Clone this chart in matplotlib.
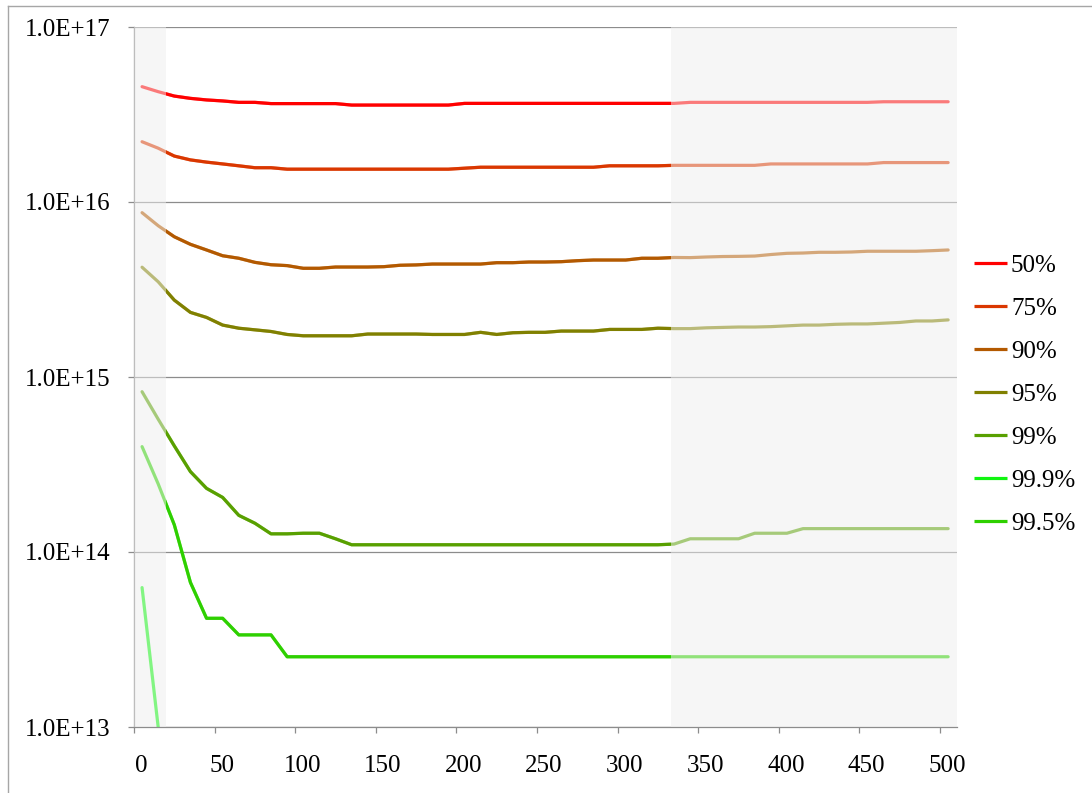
import numpy as np
import matplotlib
matplotlib.use('Agg')
import matplotlib.pyplot as plt
from matplotlib import transforms
from matplotlib.patches import Rectangle
from matplotlib.ticker import FixedLocator, FuncFormatter, NullLocator

plt.rcParams['font.family'] = ['Liberation Serif', 'DejaVu Serif']

# x positions of the samples
x_vals = list(range(5, 506, 10))

p50 = ([4.56e16, 4.27e16, 4.03e16, 3.91e16, 3.83e16, 3.78e16, 3.71e16, 3.71e16, 3.65e16]
       + [3.65e16] * 4 + [3.58e16] * 7 + [3.66e16] * 14 + [3.71e16] * 12 + [3.74e16] * 5)

p75 = ([2.21e16, 2.03e16, 1.83e16, 1.74e16, 1.69e16, 1.65e16, 1.61e16, 1.57e16, 1.57e16]
       + [1.54e16] * 11 + [1.56e16] + [1.58e16] * 8 + [1.61e16] * 4 + [1.62e16]
       + [1.62e16] * 5 + [1.65e16] * 7 + [1.68e16] * 5)

p90 = [8.69e15, 7.32e15, 6.33e15, 5.73e15, 5.32e15, 4.93e15, 4.77e15, 4.52e15, 4.38e15, 4.33e15,
       4.18e15, 4.18e15, 4.25e15, 4.25e15, 4.25e15, 4.27e15, 4.35e15, 4.37e15, 4.42e15, 4.42e15,
       4.42e15, 4.42e15, 4.50e15, 4.50e15, 4.54e15, 4.54e15, 4.56e15, 4.62e15, 4.66e15, 4.66e15,
       4.66e15, 4.77e15, 4.77e15, 4.82e15, 4.81e15, 4.85e15, 4.88e15, 4.89e15, 4.91e15, 5.01e15,
       5.09e15, 5.11e15, 5.16e15, 5.16e15, 5.18e15, 5.23e15, 5.23e15, 5.23e15, 5.23e15, 5.27e15,
       5.32e15]

p95 = [4.24e15, 3.50e15, 2.75e15, 2.34e15, 2.19e15, 1.98e15, 1.90e15, 1.86e15, 1.82e15, 1.75e15,
       1.72e15, 1.72e15, 1.72e15, 1.72e15, 1.76e15, 1.76e15, 1.76e15, 1.76e15, 1.75e15, 1.75e15,
       1.75e15, 1.80e15, 1.75e15, 1.79e15, 1.80e15, 1.80e15, 1.83e15, 1.83e15, 1.83e15, 1.87e15,
       1.87e15, 1.87e15, 1.90e15, 1.89e15, 1.89e15, 1.91e15, 1.92e15, 1.93e15, 1.93e15, 1.94e15,
       1.96e15, 1.98e15, 1.98e15, 2.00e15, 2.01e15, 2.01e15, 2.03e15, 2.05e15, 2.09e15, 2.09e15,
       2.12e15]

p99 = ([8.24e14, 5.74e14, 4.04e14, 2.88e14, 2.31e14, 2.05e14, 1.62e14, 1.46e14, 1.27e14, 1.27e14,
        1.28e14, 1.28e14, 1.19e14]
       + [1.10e14] * 20 + [1.11e14] + [1.19e14] * 4 + [1.28e14] * 3 + [1.36e14] * 10)

p999 = [6.26e13, 1.0e13] + [np.nan] * 49

p995 = ([4.0e14, 2.45e14, 1.43e14, 6.7e13, 4.18e13, 4.18e13, 3.36e13, 3.36e13, 3.36e13]
        + [2.52e13] * 42)

labels = ['50%', '75%', '90%', '95%', '99%', '99.9%', '99.5%']
colors = ['#FF0000', '#DA3700', '#B35900', '#808000', '#58A000', '#10F510', '#2ED000']
series = [p50, p75, p90, p95, p99, p999, p995]

# shaded (faded) parts of the x range
shade_left = (0, 20)
shade_right = (333, 510.5)

fig = plt.figure(figsize=(10.92, 7.93), dpi=100)
ax = fig.add_axes([134 / 1092, 1 - 727 / 793, 823 / 1092, 700 / 793])

ax.set_yscale('log')
ax.set_xlim(0, 510.5)
ax.set_ylim(1e13, 1e17)

grey = '#8C8C8C'
ax.set_axisbelow(True)
ax.yaxis.set_major_locator(FixedLocator([1e13, 1e14, 1e15, 1e16, 1e17]))
ax.yaxis.set_minor_locator(NullLocator())
ax.yaxis.set_major_formatter(FuncFormatter(lambda v, p: '1.0E+%d' % int(round(np.log10(v)))))
ax.set_xticks(range(0, 501, 50))
ax.grid(axis='y', color=grey, lw=0.9)
ax.grid(axis='x', visible=False)

for s in ['top', 'right']:
    ax.spines[s].set_visible(False)
for s in ['left', 'bottom']:
    ax.spines[s].set_color(grey)
    ax.spines[s].set_linewidth(0.9)

ax.tick_params(axis='y', which='major', direction='out', length=4.5, width=0.9, color=grey,
               labelsize=18, pad=12.5)
ax.tick_params(axis='x', which='major', direction='out', length=4, width=0.9, color=grey,
               labelsize=18, pad=16.5)
# x labels sit a little right of their ticks in the original
offset = transforms.ScaledTranslation(7 / 100, 0, fig.dpi_scale_trans)
for lab in ax.get_xticklabels():
    lab.set_transform(lab.get_transform() + offset)

ax.axvspan(*shade_left, color='#EFEFEF', alpha=0.5, lw=0, zorder=3)
ax.axvspan(*shade_right, color='#EFEFEF', alpha=0.5, lw=0, zorder=3)

clip_tr = transforms.blended_transform_factory(ax.transData, ax.transAxes)
for vals, c, lab in zip(series, colors, labels):
    ax.plot(x_vals, vals, color=c, lw=2.3, alpha=0.5, zorder=4, solid_capstyle='round')
    line, = ax.plot(x_vals, vals, color=c, lw=2.3, zorder=5, label=lab, solid_capstyle='butt')
    clip = Rectangle((shade_left[1], -0.1), shade_right[0] - shade_left[1], 1.2,
                     transform=clip_tr)
    line.set_clip_path(clip)

fig.legend(loc='center left', bbox_to_anchor=(974 / 1092, 1 - 394.5 / 793),
           frameon=False, fontsize=18, handlelength=1.3, handletextpad=0.18,
           labelspacing=0.82, borderpad=0, borderaxespad=0)

# thin outer border of the chart box
fig.add_artist(plt.Line2D([7.5 / 1092, 7.5 / 1092], [0, 1 - 5.5 / 793], color='#A6A6A6',
                          lw=1, transform=fig.transFigure))
fig.add_artist(plt.Line2D([7.5 / 1092, 1], [1 - 5.5 / 793, 1 - 5.5 / 793], color='#A6A6A6',
                          lw=1, transform=fig.transFigure))

fig.savefig('out.png', dpi=100)
